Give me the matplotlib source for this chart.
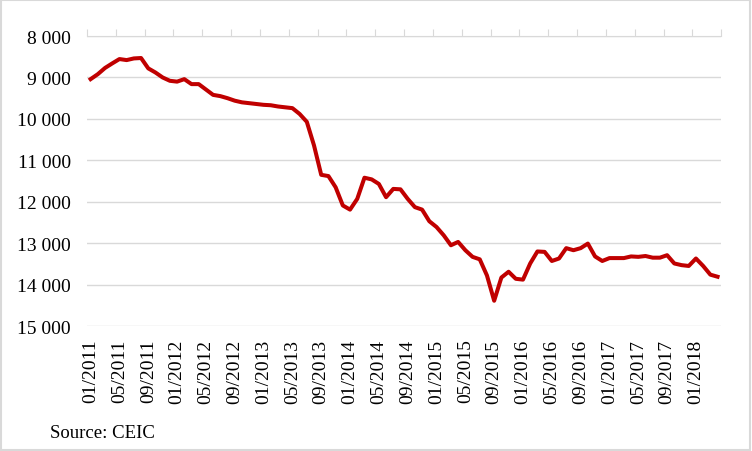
import matplotlib.pyplot as plt
from matplotlib.patches import Rectangle

plt.rcParams['font.family'] = ['Liberation Serif', 'DejaVu Serif']

# monthly values, 01/2011 .. 04/2018
values = [9040, 8920, 8770, 8660, 8555, 8580, 8540, 8530, 8780, 8880, 9000, 9080,
          9100, 9040, 9160, 9160, 9290, 9420, 9450, 9500, 9560, 9600, 9620, 9640,
          9660, 9670, 9700, 9720, 9740, 9880, 10070, 10640, 11350, 11380, 11650, 12090,
          12190, 11930, 11420, 11460, 11570, 11890, 11690, 11700, 11930, 12130, 12190, 12470,
          12610, 12810, 13050, 12970, 13170, 13330, 13390, 13780, 14390, 13830, 13690, 13860,
          13880, 13490, 13200, 13210, 13430, 13370, 13120, 13170, 13120, 13010, 13320, 13430,
          13360, 13360, 13360, 13320, 13330, 13310, 13350, 13350, 13290, 13490, 13530, 13550,
          13370, 13550, 13760, 13810]
tick_labels = ['01/2011', '05/2011', '09/2011', '01/2012', '05/2012', '09/2012',
               '01/2013', '05/2013', '09/2013', '01/2014', '05/2014', '09/2014',
               '01/2015', '05/2015', '09/2015', '01/2016', '05/2016', '09/2016',
               '01/2017', '05/2017', '09/2017', '01/2018']
y_ticks = [8000, 9000, 10000, 11000, 12000, 13000, 14000, 15000]

fig = plt.figure(figsize=(7.52, 4.52), dpi=100)
ax = fig.add_axes([0.1157, 0.2765, 0.8433, 0.6415])

x = list(range(len(values)))
ax.plot(x, values, color='#c00000', lw=2.9, solid_joinstyle='round', zorder=3)

ax.set_xlim(-0.5, len(values) - 0.5)
ax.set_ylim(15000, 8000)
ax.set_yticks(y_ticks)
ax.set_yticklabels([f'{v:,}'.replace(',', ' ') for v in y_ticks], fontsize=14)
ax.tick_params(axis='y', length=0, pad=11.5)
ax.grid(axis='y', color='#d9d9d9', lw=1)

# tick marks between categories on the top axis line, labels at category centres below
ax.set_xticks([i - 0.5 for i in range(0, len(values) + 1, 4)])
ax.tick_params(axis='x', which='major', top=True, bottom=False, labelbottom=False,
               direction='out', length=5, color='#d9d9d9')
ax.set_xticks(list(range(0, len(values), 4)), minor=True)
ax.set_xticklabels(tick_labels, minor=True, rotation=90, fontsize=14)
ax.tick_params(axis='x', which='minor', length=0, pad=9)

for s in ['left', 'right', 'bottom']:
    ax.spines[s].set_visible(False)
ax.spines['top'].set_color('#d9d9d9')

fig.text(0.066, 0.031, 'Source: CEIC', fontsize=13.5, va='baseline')
fig.patches.append(Rectangle((0.001, 0.002), 0.997, 0.995, transform=fig.transFigure,
                             fill=False, edgecolor='#d9d9d9', lw=1.5))

fig.savefig('out.png', dpi=100)
